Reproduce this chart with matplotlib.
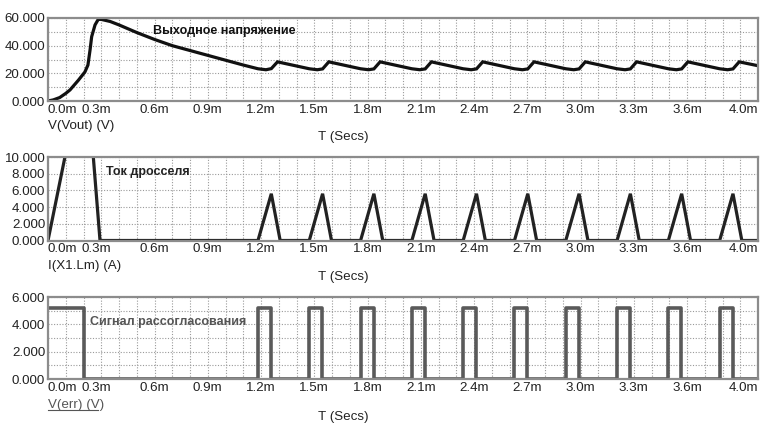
import matplotlib
matplotlib.use("Agg")
import matplotlib.pyplot as plt
from matplotlib.ticker import MultipleLocator
from matplotlib.lines import Line2D
import matplotlib.transforms as mtransforms

plt.rcParams['font.family'] = ['Liberation Sans', 'DejaVu Sans']

# time in ms
t_vout = [0.0, 0.03, 0.066, 0.10, 0.124, 0.171, 0.208, 0.225, 0.237, 0.246, 0.265, 0.283, 0.30,
          0.35, 0.40, 0.50, 0.60, 0.70, 0.80, 0.90, 1.00, 1.10,
          1.183, 1.228, 1.258, 1.293,
          1.472, 1.517, 1.547, 1.582,
          1.761, 1.806, 1.836, 1.871,
          2.050, 2.095, 2.125, 2.160,
          2.339, 2.384, 2.414, 2.449,
          2.628, 2.673, 2.703, 2.738,
          2.917, 2.962, 2.992, 3.027,
          3.206, 3.251, 3.281, 3.316,
          3.495, 3.540, 3.570, 3.605,
          3.784, 3.829, 3.859, 3.894,
          4.0]
v_out = [0.0, 0.8, 2.5, 5.5, 8.0, 15.0, 21.0, 26.0, 37.0, 46.5, 55.0, 59.0, 59.0,
         57.5, 55.0, 49.5, 44.5, 40.0, 36.5, 33.0, 29.5, 26.0,
         23.3, 22.6, 23.4, 28.3,
         23.3, 22.6, 23.2, 28.3,
         23.3, 22.6, 23.2, 28.3,
         23.3, 22.6, 23.2, 28.3,
         23.3, 22.6, 23.2, 28.3,
         23.3, 22.6, 23.2, 28.3,
         23.3, 22.6, 23.2, 28.3,
         23.3, 22.6, 23.2, 28.3,
         23.3, 22.6, 23.2, 28.3,
         23.3, 22.6, 23.2, 28.3,
         25.5]

t_il = [0.0, 0.21, 0.293,
        1.183, 1.258, 1.308,
        1.472, 1.547, 1.597,
        1.761, 1.836, 1.886,
        2.050, 2.125, 2.175,
        2.339, 2.414, 2.464,
        2.628, 2.703, 2.753,
        2.917, 2.992, 3.042,
        3.206, 3.281, 3.331,
        3.495, 3.570, 3.620,
        3.784, 3.859, 3.909,
        4.0]
i_l = [0.0, 22.0, 0.0,
       0.0, 5.6, 0.0,
       0.0, 5.6, 0.0,
       0.0, 5.6, 0.0,
       0.0, 5.6, 0.0,
       0.0, 5.6, 0.0,
       0.0, 5.6, 0.0,
       0.0, 5.6, 0.0,
       0.0, 5.6, 0.0,
       0.0, 5.6, 0.0,
       0.0, 5.6, 0.0,
       0.0]

t_err = [0.0, 0.2, 1.183, 1.256, 1.472, 1.545, 1.761, 1.834, 2.050, 2.123,
         2.339, 2.412, 2.628, 2.701, 2.917, 2.990, 3.206, 3.279, 3.495, 3.568,
         3.784, 3.857, 4.0]
v_err = [5.2, 0.0, 5.2, 0.0, 5.2, 0.0, 5.2, 0.0, 5.2, 0.0,
         5.2, 0.0, 5.2, 0.0, 5.2, 0.0, 5.2, 0.0, 5.2, 0.0,
         5.2, 0.0, 0.0]

x_ticks = [0.0, 0.3, 0.6, 0.9, 1.2, 1.5, 1.8, 2.1, 2.4, 2.7, 3.0, 3.3, 3.6, 4.0]
x_labels = ["0.0m", "0.3m", "0.6m", "0.9m", "1.2m", "1.5m", "1.8m", "2.1m",
            "2.4m", "2.7m", "3.0m", "3.3m", "3.6m", "4.0m"]

W, H = 773, 425
fig = plt.figure(figsize=(W / 100, H / 100), dpi=100)

def px_ax(top, bottom, left=48, right=758):
    return [left / W, 1 - bottom / H, (right - left) / W, (bottom - top) / H]

ax1 = fig.add_axes(px_ax(18, 101))
ax2 = fig.add_axes(px_ax(157, 240.5))
ax3 = fig.add_axes(px_ax(297, 379))

fs = 9.6
for ax, yt, ystep, ymax in [(ax1, [0, 20, 40, 60], 10, 60),
                            (ax2, [0, 2, 4, 6, 8, 10], 2, 10),
                            (ax3, [0, 2, 4, 6], 1, 6)]:
    ax.set_xlim(0, 4.0)
    ax.set_ylim(0, ymax)
    ax.set_xticks(x_ticks)
    ax.set_xticklabels(x_labels)
    ax.xaxis.set_minor_locator(MultipleLocator(0.1))
    ax.set_yticks(yt)
    ax.set_yticklabels(["%.3f" % v for v in yt])
    ax.yaxis.set_minor_locator(MultipleLocator(ystep))
    ax.grid(which='both', color='#9a9a9a', linestyle=(0, (1, 1.5)), linewidth=0.8)
    ax.tick_params(which='both', length=0, labelsize=fs, colors='#222222', pad=2)
    for s in ax.spines.values():
        s.set_color('#8c8c8c')
        s.set_linewidth(1.6)
    labs = ax.get_xticklabels()
    labs[0].set_ha('left')
    labs[-1].set_ha('right')
    off = mtransforms.ScaledTranslation(-5 / 100, 0, fig.dpi_scale_trans)
    labs[1].set_transform(labs[1].get_transform() + off)

ax1.plot(t_vout, v_out, color='#111111', linewidth=2.3, solid_joinstyle='miter')
ax2.plot(t_il, i_l, color='#222222', linewidth=2.3, solid_joinstyle='miter')
ax3.plot(t_err, v_err, color='#5a5a5a', linewidth=2.6, drawstyle='steps-post')

ax1.text(0.59, 50.6, "Выходное напряжение", fontsize=9, fontweight='bold',
         color='#111111', va='center', ha='left')
ax2.text(0.327, 8.2, "Ток дросселя", fontsize=9, fontweight='bold',
         color='#222222', va='center', ha='left')
ax3.text(0.237, 4.17, "Сигнал рассогласования", fontsize=9, fontweight='bold',
         color='#555555', va='center', ha='left')

for yl, ylab, col in [(126, "V(Vout) (V)", '#222222'), (266, "I(X1.Lm) (A)", '#222222'),
                      (405, "V(err) (V)", '#555555')]:
    fig.text(48 / W, 1 - yl / H, ylab, fontsize=fs, color=col, ha='left', va='center')
fig.add_artist(Line2D([48 / W, 98 / W], [1 - 409.5 / H, 1 - 409.5 / H],
                      color='#555555', linewidth=0.8))

for yl in [137, 277, 417]:
    fig.text(343 / W, 1 - yl / H, "T (Secs)", fontsize=fs, color='#222222',
             ha='center', va='center')

fig.savefig("out.png", dpi=100)
